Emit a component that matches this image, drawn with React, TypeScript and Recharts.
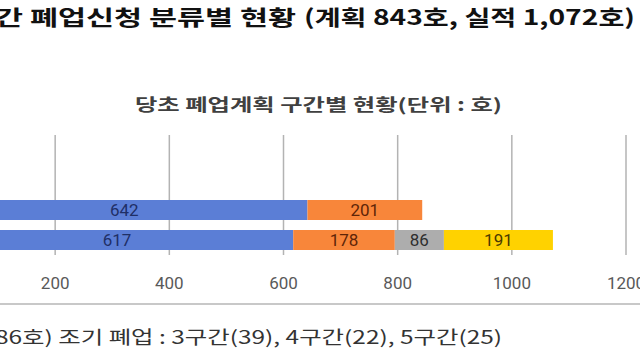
import { BarChart, Bar, XAxis, YAxis, CartesianGrid, LabelList } from "recharts";

const categories = ["계획", "실적"];
const seg1 = [642, 617];
const seg2 = [201, 178];
const seg3 = [null, 86];
const seg4 = [null, 191];
const xTicks = [0, 200, 400, 600, 800, 1000, 1200];

const data = categories.map((name, i) => ({
  name,
  s1: seg1[i],
  s2: seg2[i],
  s3: seg3[i],
  s4: seg4[i],
}));

const labelFont = "Roboto, 'DejaVu Sans', sans-serif";
const krFont = "'Noto Sans CJK KR', sans-serif";

const series = [
  { key: "s1", fill: "#5b7ed6", text: "#1f2f66" },
  { key: "s2", fill: "#f8863a", text: "#5e2508" },
  { key: "s3", fill: "#adadad", text: "#2e2e2e" },
  { key: "s4", fill: "#ffd200", text: "#4a3b00" },
];

export default function App() {
  return (
    <div
      style={{
        position: "absolute",
        left: 0,
        top: 0,
        width: 640,
        height: 360,
        overflow: "hidden",
        background: "#fff",
      }}
    >
      <svg width={640} height={360} style={{ position: "absolute", left: 0, top: 0 }}>
        <text x={-5} y={25} fontFamily={krFont} fontWeight={700} fontSize={21} fill="#111" textLength={301} lengthAdjust="spacingAndGlyphs">
          간 폐업신청 분류별 현황
        </text>
        <text x={304} y={25} fontFamily={krFont} fontWeight={700} fontSize={21} fill="#111" textLength={331} lengthAdjust="spacingAndGlyphs">
          (계획 843호, 실적 1,072호)
        </text>
        <text x={135} y={111} fontFamily={krFont} fontWeight={700} fontSize={17} fill="#404040" textLength={367} lengthAdjust="spacingAndGlyphs">
          당초 폐업계획 구간별 현황(단위 : 호)
        </text>
        <line x1={0} x2={640} y1={304} y2={304} stroke="#c8c8c8" strokeWidth={2} />
        <text x={-5} y={344} fontFamily={krFont} fontSize={18} fill="#333" textLength={507} lengthAdjust="spacingAndGlyphs">
          86호) 조기 폐업 : 3구간(39), 4구간(22), 5구간(25)
        </text>
      </svg>
      <div style={{ position: "absolute", left: -59, top: 0 }}>
        <BarChart
          width={700}
          height={300}
          data={data}
          layout="vertical"
          barSize={20}
          margin={{ top: 135, right: 15, bottom: 15, left: 0 }}
        >
          <CartesianGrid horizontal={false} stroke="#b3b3b3" strokeWidth={1.5} />
          <XAxis
            type="number"
            domain={[0, 1200]}
            ticks={xTicks}
            interval={0}
            tickLine={false}
            axisLine={false}
            tickSize={0}
            tickMargin={22}
            tick={{ fontSize: 17, fill: "#595959", fontFamily: labelFont }}
          />
          <YAxis type="category" dataKey="name" hide padding={{ top: 60, bottom: 0 }} />
          {series.map((s) => (
            <Bar key={s.key} dataKey={s.key} stackId="a" fill={s.fill} isAnimationActive={false}>
              <LabelList dataKey={s.key} position="center" fill={s.text} fontSize={17} fontFamily={labelFont} />
            </Bar>
          ))}
        </BarChart>
      </div>
    </div>
  );
}
